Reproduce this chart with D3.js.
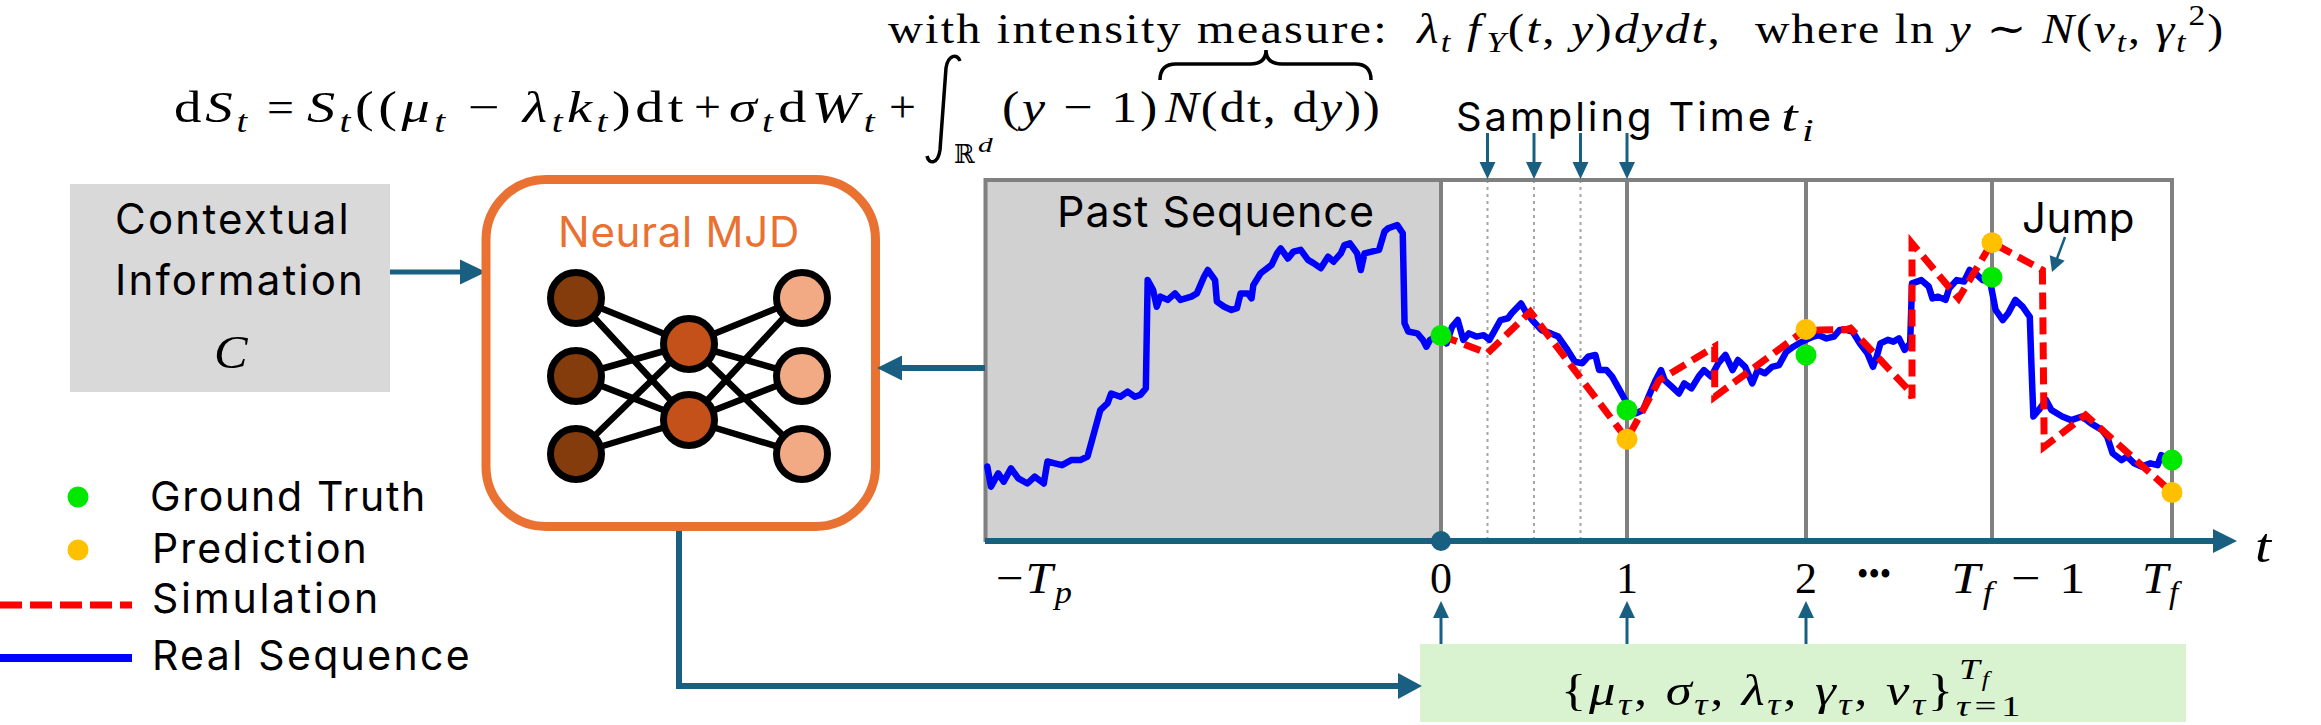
<!DOCTYPE html>
<html>
<head>
<meta charset="utf-8">
<script src="https://cdn.jsdelivr.net/npm/d3@7"></script>
<style>
  body { margin: 0; background: #fff; }
  svg { display: block; }
  text { white-space: pre; }
</style>
</head>
<body>
<div id="fig"></div>
<script>
// real sequence, past part (time in steps, value in % of frame height)
const pastTimes = [-2.49, -2.47, -2.43, -2.40, -2.36, -2.32, -2.27, -2.23, -2.18, -2.16, -2.12, -2.08, -2.03, -1.98, -1.94, -1.91, -1.87, -1.83, -1.81, -1.76, -1.72, -1.68, -1.65, -1.62, -1.61, -1.58, -1.56, -1.54, -1.50, -1.46, -1.43, -1.37, -1.34, -1.30, -1.28, -1.24, -1.23, -1.19, -1.15, -1.12, -1.10, -1.06, -1.04, -1.03, -0.99, -0.93, -0.90, -0.88, -0.84, -0.81, -0.77, -0.73, -0.70, -0.66, -0.62, -0.59, -0.55, -0.53, -0.50, -0.46, -0.44, -0.42, -0.38, -0.34, -0.31, -0.29, -0.24, -0.21, -0.20, -0.18, -0.13, -0.10, -0.08, -0.06, -0.01];
const pastValues = [20.4, 14.8, 18.5, 16.2, 19.9, 17.1, 15.7, 17.6, 15.7, 21.8, 21.3, 20.8, 22.2, 22.2, 23.2, 28.7, 36.1, 38.0, 40.7, 39.8, 41.2, 39.8, 40.3, 42.1, 72.2, 69.4, 64.8, 67.6, 66.7, 68.5, 66.7, 67.6, 68.5, 73.2, 75.0, 72.2, 66.2, 64.8, 63.9, 64.4, 68.5, 68.5, 67.1, 70.8, 74.1, 76.4, 79.6, 81.0, 78.2, 80.1, 80.6, 77.8, 76.9, 75.5, 78.7, 77.3, 79.6, 81.9, 82.4, 79.6, 75.0, 79.6, 80.1, 80.6, 85.7, 86.6, 87.5, 85.2, 60.2, 57.9, 57.4, 55.6, 53.7, 55.6, 56.9];

// real sequence, future part
const futureTimes = [0.00, 0.03, 0.06, 0.09, 0.12, 0.15, 0.19, 0.23, 0.26, 0.28, 0.32, 0.36, 0.38, 0.43, 0.46, 0.49, 0.54, 0.59, 0.63, 0.68, 0.72, 0.76, 0.79, 0.83, 0.85, 0.89, 0.92, 0.95, 0.99, 1.01, 1.05, 1.09, 1.12, 1.16, 1.19, 1.21, 1.25, 1.29, 1.32, 1.36, 1.40, 1.43, 1.47, 1.51, 1.55, 1.59, 1.62, 1.66, 1.70, 1.73, 1.77, 1.81, 1.85, 1.89, 1.93, 1.96, 2.00, 2.04, 2.07, 2.11, 2.15, 2.18, 2.22, 2.25, 2.29, 2.33, 2.36, 2.38, 2.40, 2.44, 2.47, 2.50, 2.53, 2.56, 2.57, 2.62, 2.66, 2.68, 2.71, 2.75, 2.77, 2.81, 2.85, 2.88, 2.91, 2.95, 2.99, 3.02, 3.06, 3.09, 3.13, 3.17, 3.21, 3.22, 3.23, 3.26, 3.30, 3.33, 3.39, 3.44, 3.50, 3.55, 3.61, 3.64, 3.67, 3.72, 3.75, 3.79, 3.83, 3.88, 3.92, 3.94, 3.99];
const futureValues = [56.8, 54.6, 59.3, 61.1, 55.6, 57.4, 56.5, 56.9, 55.6, 57.4, 61.1, 61.6, 63.0, 65.7, 63.0, 61.1, 58.3, 57.4, 56.5, 52.8, 49.5, 49.1, 50.9, 51.4, 47.2, 47.2, 45.4, 42.6, 38.9, 36.6, 35.2, 36.1, 39.8, 44.4, 47.2, 44.4, 42.6, 40.7, 43.5, 42.1, 45.4, 47.2, 45.4, 49.1, 51.4, 47.2, 50.0, 48.1, 43.5, 47.2, 46.3, 48.1, 48.6, 52.3, 53.7, 54.6, 55.6, 56.5, 56.9, 56.0, 56.5, 58.3, 58.3, 57.9, 54.6, 51.9, 48.1, 50.9, 54.6, 55.6, 55.1, 56.0, 52.8, 54.6, 71.3, 72.2, 70.4, 67.1, 67.6, 66.7, 69.9, 72.2, 71.8, 75.0, 74.1, 72.2, 71.8, 63.9, 61.1, 63.0, 66.7, 64.8, 62.0, 47.2, 34.3, 36.1, 38.9, 36.1, 34.3, 33.3, 34.3, 32.4, 30.6, 28.7, 24.1, 22.2, 23.2, 21.3, 20.4, 21.3, 20.8, 23.6, 22.2];

// simulation (red dashed)
const simTimes = [0.00, 0.25, 0.48, 1.00, 1.18, 1.49, 1.49, 2.00, 2.07, 2.22, 2.24, 2.56, 2.57, 2.57, 2.82, 3.00, 3.28, 3.29, 3.52, 4.00];
const simValues = [56.8, 51.9, 63.4, 28.0, 44.4, 53.7, 39.8, 58.5, 58.3, 58.5, 58.8, 41.2, 39.4, 82.4, 67.1, 82.6, 75.0, 25.9, 34.7, 13.2];

// markers
const truthTimes = [0, 1, 2, 3, 4];
const truthValues = [56.8, 36.1, 51.4, 73.0, 22.2];
const predTimes = [1, 2, 3, 4];
const predValues = [28.0, 58.5, 82.6, 13.2];

const sampleTimes = [0.25, 0.5, 0.75];
const sampleArrowTimes = [0.25, 0.5, 0.75, 1];
const gridTimes = [0, 1, 2, 3, 4];
const digitTicks = [0, 1, 2];
const paramArrowTimes = [0, 1, 2];
const legendLabels = ["Ground Truth", "Prediction", "Simulation", "Real Sequence"];
const layerSizes = [3, 2, 3];

const W = 2321, H = 725;
const teal = "#195f82", orange = "#e97132", gray = "#808080";
const sans = "Inter, Roboto, sans-serif";
const serif = "'Liberation Serif', 'DejaVu Serif', serif";

const svg = d3.select("#fig").append("svg").attr("width", W).attr("height", H);

const x = d3.scaleLinear().domain([-2.5, 0, 1, 2, 3, 4]).range([985.5, 1441, 1627, 1806, 1992, 2172]);
const y = d3.scaleLinear().domain([0, 100]).range([540, 180]);

// make a text run from x0 to x1; part of the gap goes to letter spacing, the rest to a squeeze
function fit(sel, x0, x1, mix = 1) {
  let b = sel.node().getBBox();
  const n = sel.text().length;
  if (b.width < x1 - x0 && n > 1 && mix > 0) {
    sel.style("letter-spacing", (mix * (x1 - x0 - b.width) / n) + "px");
    b = sel.node().getBBox();
  }
  const k = (x1 - x0) / b.width;
  sel.attr("transform", `translate(${x0},0) scale(${k},1) translate(${-b.x},0)`);
  return sel;
}

function label(str, x0, x1, base, size, color) {
  const t = svg.append("text")
    .attr("x", 0).attr("y", base)
    .style("font-family", sans).style("font-size", size + "px")
    .attr("fill", color || "#000")
    .text(str);
  return fit(t, x0, x1);
}

// little math typesetter: [text, kind, dx]
function tex(parts, x0, x1, base, size) {
  const t = svg.append("text").attr("x", 0).attr("y", base)
    .style("font-family", serif).style("font-size", size + "px");
  let cur = 0;
  parts.forEach(([s, k, dx]) => {
    let off = 0, fs = size, it = false;
    if (k === "i") it = true;
    if (k === "sb") { off = 0.22 * size; fs = 0.7 * size; it = true; }
    if (k === "sbr") { off = 0.22 * size; fs = 0.7 * size; }
    if (k === "sp") { off = -0.42 * size; fs = 0.7 * size; }
    t.append("tspan")
      .attr("dy", off - cur).attr("dx", dx || 0)
      .style("font-size", fs + "px")
      .style("font-style", it ? "italic" : "normal")
      .text(s);
    cur = off;
  });
  if (x1 != null) fit(t, x0, x1, 0.4);
  else t.attr("x", x0);
  return t;
}

function arrow(x1, y1, x2, y2, w, hl, hw, color) {
  const dx = x2 - x1, dy = y2 - y1, L = Math.hypot(dx, dy);
  const ux = dx / L, uy = dy / L;
  const bx = x2 - ux * hl, by = y2 - uy * hl;
  svg.append("line")
    .attr("x1", x1).attr("y1", y1).attr("x2", bx + ux).attr("y2", by + uy)
    .attr("stroke", color).attr("stroke-width", w);
  svg.append("path")
    .attr("d", `M${x2},${y2}L${bx - uy * hw},${by + ux * hw}L${bx + uy * hw},${by - ux * hw}Z`)
    .attr("fill", color);
}

// ---- formula, top line
tex([["with intensity measure:", "r"]], 888, 1389, 43, 42);
tex([["λ", "i"], ["t", "sb"], [" f", "i"], ["Y", "sb", 3], ["(", "r"], ["t", "i"], [", ", "r"], ["y", "i"], [")", "r"], ["dydt", "i"], [",", "r"]], 1415, 1722, 43, 42);
tex([["where ln ", "r"], ["y", "i"], [" ∼ ", "r"], ["N", "i"], ["(", "r"], ["ν", "i"], ["t", "sb"], [", ", "r"], ["γ", "i"], ["t", "sb"], ["2", "sp", 1], [")", "r"]], 1755, 2225, 43, 42);

// ---- formula, main line
const fb = 122, fs = 44;
tex([["d", "r"], ["S", "i"], ["t", "sb"]], 174, 251, fb, fs);
tex([["=", "r"]], 267, 294, fb, fs);
tex([["S", "i"], ["t", "sb"], ["((", "r"], ["μ", "i"], ["t", "sb"], [" − ", "r"], ["λ", "i"], ["t", "sb"], ["k", "i"], ["t", "sb"], [")dt", "r"]], 307, 688, fb, fs);
tex([["+", "r"]], 694, 721, fb, fs);
tex([["σ", "i"], ["t", "sb"], ["d", "r"], ["W", "i"], ["t", "sb"]], 729, 880, fb, fs);
tex([["+", "r"]], 889, 916, fb, fs);
svg.append("path")
  .attr("d", "M927,156 C929,165 938,164 940,150 L946,68 C948,55 957,53 960,61")
  .attr("fill", "none").attr("stroke", "#000").attr("stroke-width", 3.5);
tex([["ℝ", "r"]], 954, 975, 163, 26);
tex([["d", "i"]], 978, 994, 152, 22);
tex([["(", "r"], ["y", "i"], [" − 1)", "r"]], 1002, 1160, fb, fs);
tex([["N", "i"], ["(dt, d", "r"], ["y", "i"], ["))", "r"]], 1164, 1382, fb, fs);
svg.append("path")
  .attr("d", "M1160,80 Q1160,64 1176,64 L1250,64 Q1266,64 1266,50 Q1266,64 1282,64 L1355,64 Q1371,64 1371,80")
  .attr("fill", "none").attr("stroke", "#000").attr("stroke-width", 3.5);

// ---- contextual information box
svg.append("rect").attr("x", 70).attr("y", 184).attr("width", 320).attr("height", 208).attr("fill", "#d9d9d9");
label("Contextual", 115, 351, 234, 42);
label("Information", 115, 365, 295, 42);
tex([["C", "i"]], 214, 249, 368, 46);
arrow(390, 272, 486, 272, 5, 26, 12.5, teal);

// ---- neural MJD box
svg.append("rect").attr("x", 486).attr("y", 179.5).attr("width", 389.5).attr("height", 347)
  .attr("rx", 60).attr("fill", "#fff").attr("stroke", orange).attr("stroke-width", 9);
label("Neural MJD", 558, 800, 247, 42, orange);

const layerX = d3.scaleLinear().domain([0, 2]).range([576, 802]);
const nodeY = n => n === 3
  ? d3.scaleLinear().domain([0, 2]).range([298, 454])
  : d3.scaleLinear().domain([0, 1]).range([344, 420]);
const nodeFill = ["#843c0c", "#c4511a", "#f2aa85"];
const nodes = layerSizes.map((n, l) => d3.range(n).map(i => ({ l, x: layerX(l), y: nodeY(n)(i) })));
const edges = [];
for (let l = 0; l < layerSizes.length - 1; l++)
  nodes[l].forEach(a => nodes[l + 1].forEach(b => edges.push([a, b])));
svg.append("g").selectAll("line").data(edges).join("line")
  .attr("x1", d => d[0].x).attr("y1", d => d[0].y)
  .attr("x2", d => d[1].x).attr("y2", d => d[1].y)
  .attr("stroke", "#000").attr("stroke-width", 6.5);
svg.append("g").selectAll("circle").data(nodes.flat()).join("circle")
  .attr("cx", d => d.x).attr("cy", d => d.y).attr("r", 25.5)
  .attr("fill", d => nodeFill[d.l]).attr("stroke", "#000").attr("stroke-width", 7);

// ---- chart
const chart = svg.append("g");
chart.append("rect")
  .attr("x", x(-2.5)).attr("y", y(100))
  .attr("width", x(0) - x(-2.5)).attr("height", y(0) - y(100))
  .attr("fill", "#d1d1d1");
chart.selectAll(".dot-line").data(sampleTimes).join("line")
  .attr("x1", d => x(d)).attr("x2", d => x(d)).attr("y1", y(100)).attr("y2", y(0))
  .attr("stroke", "#a6a6a6").attr("stroke-width", 2).attr("stroke-dasharray", "3 4");
chart.selectAll(".grid").data(gridTimes).join("line")
  .attr("x1", d => x(d)).attr("x2", d => x(d)).attr("y1", y(100)).attr("y2", y(0))
  .attr("stroke", gray).attr("stroke-width", 4);
chart.append("rect")
  .attr("x", x(-2.5)).attr("y", y(100))
  .attr("width", x(4) - x(-2.5)).attr("height", y(0) - y(100))
  .attr("fill", "none").attr("stroke", gray).attr("stroke-width", 4);

label("Past Sequence", 1057, 1375, 227, 43);

const line = d3.line().x(d => x(d[0])).y(d => y(d[1]));
const realPts = pastTimes.map((t, i) => [t, pastValues[i]])
  .concat(futureTimes.map((t, i) => [t, futureValues[i]]));
const simPts = simTimes.map((t, i) => [t, simValues[i]]);

chart.append("path").attr("d", line(realPts))
  .attr("fill", "none").attr("stroke", "#0000ff").attr("stroke-width", 6.5)
  .attr("stroke-linejoin", "round").attr("stroke-linecap", "round");
chart.append("path").attr("d", line(simPts))
  .attr("fill", "none").attr("stroke", "#ff0000").attr("stroke-width", 7)
  .attr("stroke-dasharray", "17 8");

chart.selectAll(".pred").data(predTimes).join("circle")
  .attr("cx", d => x(d)).attr("cy", (d, i) => y(predValues[i])).attr("r", 10.5)
  .attr("fill", "#ffc000");
chart.selectAll(".truth").data(truthTimes).join("circle")
  .attr("cx", d => x(d)).attr("cy", (d, i) => y(truthValues[i])).attr("r", 10.5)
  .attr("fill", "#00e800");

// jump annotation
label("Jump", 2022, 2135, 233, 42);
arrow(2065, 237, 2052, 272, 2.5, 15, 8, teal);

// sampling time
label("Sampling Time", 1456, 1774, 131, 40);
tex([["t", "i"], ["i", "sb"]], 1781, 1818, 131, 44);
sampleArrowTimes.forEach(t => arrow(x(t), 133, x(t), 179, 3, 17, 8, teal));

// ---- time axis
arrow(985, 541, 2237, 541, 6, 24, 12, teal);
svg.append("circle").attr("cx", x(0)).attr("cy", 541).attr("r", 10).attr("fill", teal);
tex([["−", "r"], ["T", "i"], ["p", "sb"]], 996, 1074, 593, 44);
svg.selectAll(".digit").data(digitTicks).join("text")
  .attr("x", d => x(d)).attr("y", 593).attr("text-anchor", "middle")
  .style("font-family", serif).style("font-size", "44px").text(d => d);
label("•••", 1857, 1912, 586, 36).style("font-family", serif);
tex([["T", "i"], ["f", "sb"], [" − 1", "r"]], 1951, 2088, 593, 44);
tex([["T", "i"], ["f", "sb"]], 2142, 2183, 593, 44);
tex([["t", "i"]], 2255, 2273, 562, 48);

// ---- parameter box
svg.append("rect").attr("x", 1420).attr("y", 644).attr("width", 766).attr("height", 78).attr("fill", "#d9f2d0");
tex([["{", "r"], ["μ", "i"], ["τ", "sb"], [", ", "r"], ["σ", "i"], ["τ", "sb"], [", ", "r"], ["λ", "i"], ["τ", "sb"], [", ", "r"], ["γ", "i"], ["τ", "sb"], [", ", "r"], ["ν", "i"], ["τ", "sb"], ["}", "r"]], 1561, 1956, 705, 44);
tex([["T", "i"], ["f", "sb"]], 1959, 1993, 679, 30);
tex([["τ", "i"], ["=1", "r"]], 1956, 2025, 716, 30);
paramArrowTimes.forEach(t => arrow(x(t), 644, x(t), 601, 3, 17, 8, teal));

// ---- connectors
arrow(985, 368, 877, 368, 6, 25, 12.5, teal);
svg.append("path").attr("d", "M679,531 V686 H1400")
  .attr("fill", "none").attr("stroke", teal).attr("stroke-width", 6);
arrow(1390, 686, 1422, 686, 6, 24, 13, teal);

// ---- legend
svg.append("circle").attr("cx", 78).attr("cy", 497).attr("r", 10.5).attr("fill", "#00e800");
svg.append("circle").attr("cx", 78).attr("cy", 550).attr("r", 10.5).attr("fill", "#ffc000");
svg.append("line").attr("x1", 0).attr("x2", 132).attr("y1", 605).attr("y2", 605)
  .attr("stroke", "#ff0000").attr("stroke-width", 7).attr("stroke-dasharray", "22 8");
svg.append("line").attr("x1", 0).attr("x2", 132).attr("y1", 658).attr("y2", 658)
  .attr("stroke", "#0000ff").attr("stroke-width", 8);
label(legendLabels[0], 150, 427, 511, 41);
label(legendLabels[1], 152, 369, 563, 41);
label(legendLabels[2], 152, 381, 613, 41);
label(legendLabels[3], 152, 472, 670, 41);
</script>
</body>
</html>
